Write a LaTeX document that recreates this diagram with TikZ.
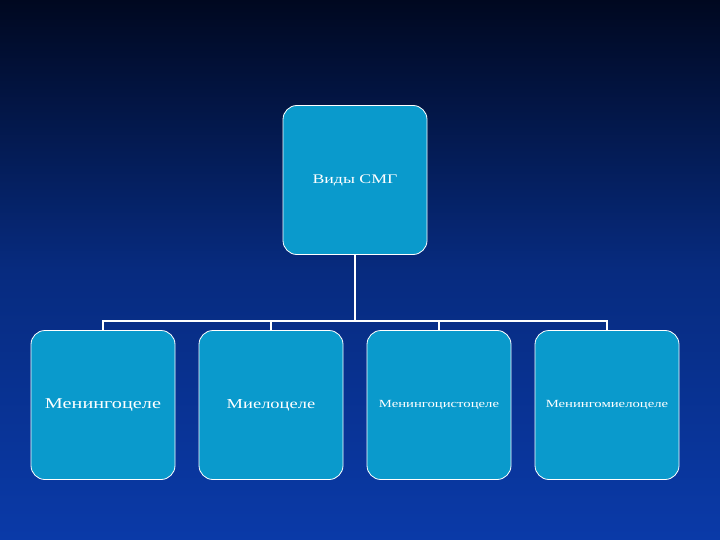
\documentclass[tikz,border=0pt]{standalone}
\usepackage{fontspec}
\setmainfont{Liberation Serif}
\newfontfamily\widefont[FakeStretch=1.35]{Liberation Serif}
\begin{document}
\begin{tikzpicture}[x=1pt,y=-1pt,
  box/.style={draw=white,line width=0.8pt,fill=boxc,rounded corners=14pt,minimum width=144pt,minimum height=149pt,text=white,inner sep=1pt},
  con/.style={draw=white,line width=1.5pt}]
\definecolor{boxc}{HTML}{0A9ACC}
\definecolor{bgtop}{HTML}{000820}
\definecolor{bgbot}{HTML}{0A3AA8}
\shade[top color=bgtop,bottom color=bgbot,middle color=bgbot!70!bgtop] (0,0) rectangle (720,540);
\useasboundingbox (0,0) rectangle (720,540);
\node[box,font=\widefont\fontsize{13.2}{14}\selectfont] (top) at (355,180) {Виды СМГ};
\node[box,font=\widefont\fontsize{15}{16}\selectfont] (b1) at (103,405) {Менингоцеле};
\node[box,font=\widefont\fontsize{13.7}{16}\selectfont] (b2) at (271,405) {Миелоцеле};
\node[box,font=\widefont\fontsize{10.9}{12}\selectfont] (b3) at (439,405) {Менингоцистоцеле};
\node[box,font=\widefont\fontsize{10.9}{12}\selectfont] (b4) at (607,405) {Менингомиелоцеле};
\coordinate (j) at (355,321);
\draw[con] (top.south) -- (j);
\draw[con] (b1.north) -- (b1.north |- j) -- (b4.north |- j) -- (b4.north);
\draw[con] (b2.north) -- (b2.north |- j);
\draw[con] (b3.north) -- (b3.north |- j);
\end{tikzpicture}
\end{document}
